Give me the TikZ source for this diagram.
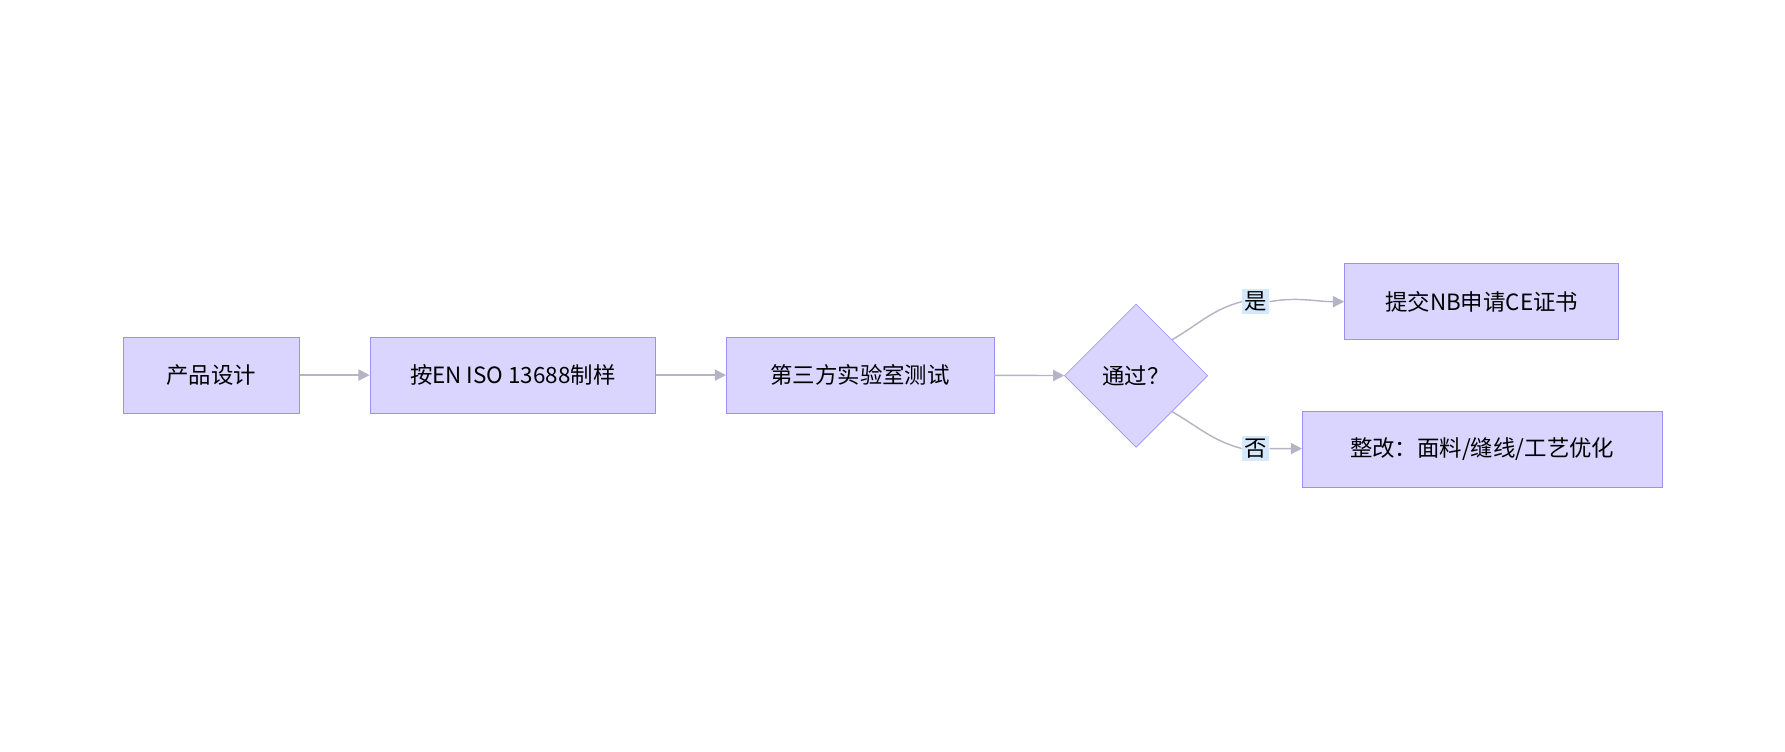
\documentclass[tikz,border=0pt]{standalone}
\usepackage{fontspec}
\setmainfont{Noto Sans CJK SC}
\usetikzlibrary{shapes.geometric,arrows.meta}
\definecolor{boxfill}{HTML}{DAD5FF}
\definecolor{boxline}{HTML}{9D8FF5}
\definecolor{edgeline}{HTML}{B4B4C4}
\definecolor{lblfill}{HTML}{D6E8FB}
\tikzset{
  stage/.style={draw=boxline, fill=boxfill, minimum height=67*0.025cm, inner sep=0pt, font=\fontsize{14pt}{16pt}\selectfont},
  test/.style={diamond, draw=boxline, fill=boxfill, minimum width=126*0.025cm, minimum height=126*0.025cm, inner sep=0pt, font=\fontsize{14pt}{16pt}\selectfont},
  flow/.style={draw=edgeline, line width=0.9pt, -{Triangle[length=7pt,width=7pt]}},
  answer/.style={fill=lblfill, inner sep=1.5pt, font=\fontsize{14pt}{16pt}\selectfont}
}
\begin{document}
\begin{tikzpicture}[x=0.025cm, y=-0.025cm]
		\useasboundingbox (0,0) rectangle (1568,660.5);
		%stages
		\node[stage, minimum width=155*0.025cm] (design) at (185.5,329.5){产品设计};
		\node[stage, minimum width=251*0.025cm] (sample) at (450.5,329.5){按EN ISO 13688制样};
		\node[stage, minimum width=235*0.025cm] (lab) at (755.5,329.5){第三方实验室测试};
		\node[test] (pass) at (998,330){通过？};
		\node[stage, minimum width=241*0.025cm] (submit) at (1301.5,265){提交NB申请CE证书};
		\node[stage, minimum width=316*0.025cm] (rework) at (1302,394.5){整改：面料/缝线/工艺优化};
		\node[answer] (yes) at (1103,265){是};
		\node[answer] (no) at (1103,394){否};
		
		\draw[flow] (design) -- (sample);
		\draw[flow] (sample) -- (lab);
		\draw[flow] (lab) -- (pass);
		%branches
		\draw[draw=edgeline, line width=0.9pt] (pass.north east) to[out=30, in=195] (yes.west);
		\draw[flow] (yes.east) to[out=10, in=180] (submit);
		\draw[draw=edgeline, line width=0.9pt] (pass.south east) to[out=-30, in=165] (no.west);
		\draw[flow] (no.east) -- (rework);
\end{tikzpicture}
\end{document}
